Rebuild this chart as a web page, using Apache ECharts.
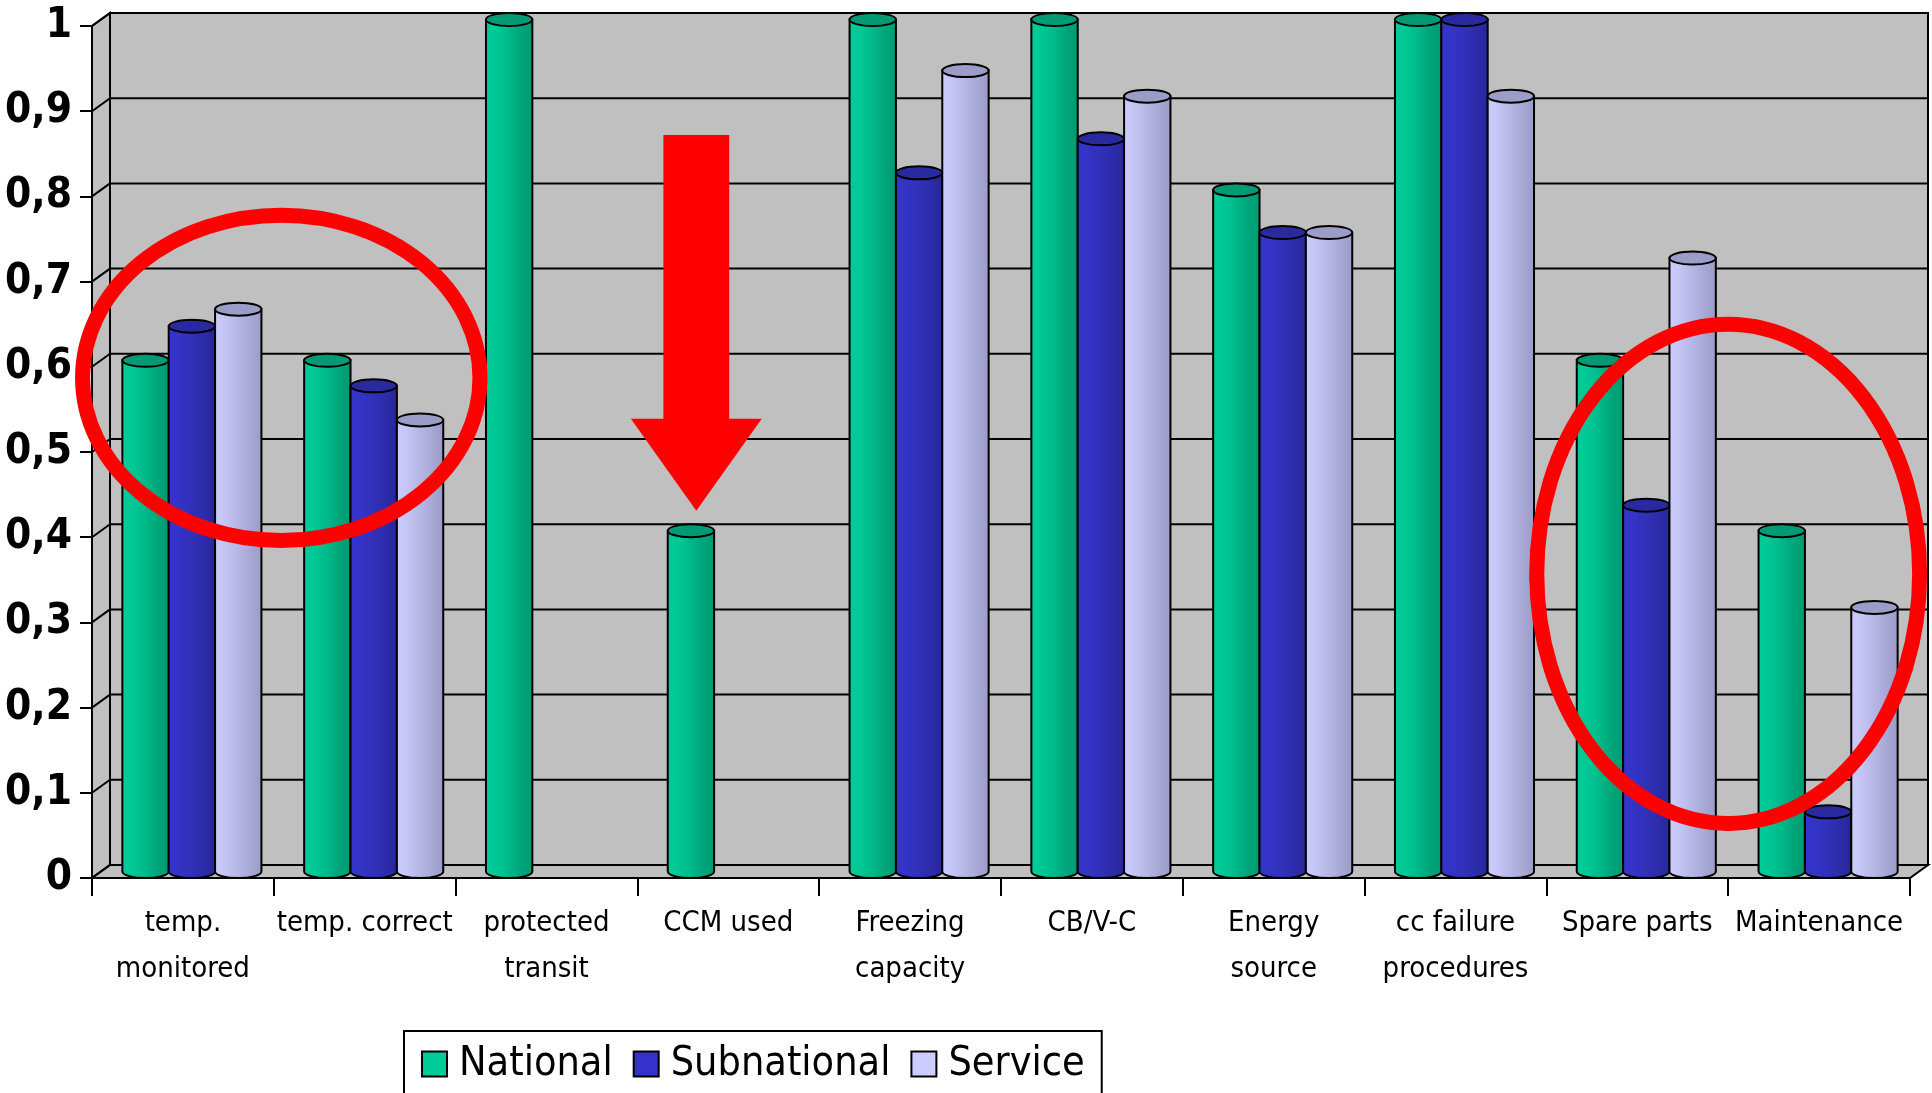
<!DOCTYPE html>
<html>
<head>
<meta charset="utf-8">
<script src="https://cdn.jsdelivr.net/npm/echarts@6/dist/echarts.min.js"></script>
<style>
html,body{margin:0;padding:0;background:#fff;}
#chart{width:1932px;height:1093px;}
</style>
</head>
<body>
<div id="chart"></div>
<script>
// ---- data ----
const categories = ['temp.\nmonitored', 'temp. correct', 'protected\ntransit', 'CCM used', 'Freezing\ncapacity', 'CB/V-C', 'Energy\nsource', 'cc failure\nprocedures', 'Spare parts', 'Maintenance'];
const seriesNames = ['National', 'Subnational', 'Service'];
const national    = [0.60, 0.60, 1.00, 0.40, 1.00, 1.00, 0.80, 1.00, 0.60, 0.40];
const subnational = [0.64, 0.57, 0,    0,    0.82, 0.86, 0.75, 1.00, 0.43, 0.07];
const service     = [0.66, 0.53, 0,    0,    0.94, 0.91, 0.75, 0.91, 0.72, 0.31];
const yTicks = [0, 0.1, 0.2, 0.3, 0.4, 0.5, 0.6, 0.7, 0.8, 0.9, 1];

// ---- style ----
const FONT = '"Liberation Sans Narrow", "DejaVu Sans Condensed", "Arial Narrow", sans-serif';
const DX = 18, DY = 13;           // 3D depth offset
const GROUP = 0.765;              // group width as fraction of band
const palette = [
  {base: '#00CC99', cap: '#009B74', stops: ['#00CC99', '#00C895', '#00B888', '#00A57A', '#009970']},
  {base: '#3333CC', cap: '#2A2AA0', stops: ['#3535CC', '#3333C6', '#3030B8', '#2C2CAA', '#26269A']},
  {base: '#CCCCFF', cap: '#9C9CC8', stops: ['#CCCCFF', '#C4C4F4', '#B6B6E4', '#A8A8D6', '#9A9AC6']}
];

function ellipsePath(cx, cy, rx, ry) {
  return 'M' + (cx - rx) + ' ' + cy + ' A' + rx + ' ' + ry + ' 0 1 0 ' + (cx + rx) + ' ' + cy +
         ' A' + rx + ' ' + ry + ' 0 1 0 ' + (cx - rx) + ' ' + cy + ' Z';
}

function makeBarSeries(name, values, idx) {
  const pal = palette[idx];
  return {
    type: 'custom',
    name: name,
    z: 5,
    itemStyle: {color: pal.base},
    encode: {x: 0, y: 1},
    data: values.map((v, i) => [i, v]),
    renderItem: function (params, api) {
      const c = api.value(0), v = api.value(1);
      if (!v) return null;
      const band = api.size([1, 0])[0];
      const base = api.coord([c, 0]);
      const top = api.coord([c, v]);
      const gw = band * GROUP, bw = gw / 3;
      const x0 = base[0] - gw / 2 + idx * bw + DX / 2;
      const x1 = x0 + bw;
      const rx = bw / 2, ry = DY / 2;
      const yB = base[1] - DY / 2, yT = top[1] - DY / 2;
      const body = 'M' + x0 + ' ' + yT + ' L' + x0 + ' ' + yB +
        ' A' + rx + ' ' + ry + ' 0 0 0 ' + x1 + ' ' + yB + ' L' + x1 + ' ' + yT + ' Z';
      const grad = new echarts.graphic.LinearGradient(0, 0, 1, 0, pal.stops.map((s, k) => ({offset: k / (pal.stops.length - 1), color: s})));
      return {
        type: 'group',
        children: [
          {type: 'path', shape: {pathData: body}, style: {fill: grad, stroke: '#000', lineWidth: 2}},
          {type: 'path', shape: {pathData: ellipsePath((x0 + x1) / 2, yT, rx, ry)}, style: {fill: pal.cap, stroke: '#000', lineWidth: 2}}
        ]
      };
    }
  };
}

// walls / floor / back gridlines of the 3D plot
const wallSeries = {
  type: 'custom',
  name: 'walls',
  z: 1,
  silent: true,
  data: [[0, 0]],
  encode: {x: 0, y: 1},
  renderItem: function (params, api) {
    const band = api.size([1, 0])[0];
    const xL = api.coord([0, 0])[0] - band / 2;
    const xR = api.coord([categories.length - 1, 0])[0] + band / 2;
    const y0 = api.coord([0, 0])[1];
    const y1 = api.coord([0, 1])[1];
    const grey = '#C0C0C0';
    const children = [];
    children.push({type: 'rect', shape: {x: xL + DX, y: y1 - DY, width: xR - xL, height: y0 - y1},
      style: {fill: grey, stroke: '#000', lineWidth: 2}});
    children.push({type: 'polygon', shape: {points: [[xL, y0], [xL + DX, y0 - DY], [xL + DX, y1 - DY], [xL, y1]]},
      style: {fill: grey, stroke: '#000', lineWidth: 2}});
    children.push({type: 'polygon', shape: {points: [[xL, y0], [xR, y0], [xR + DX, y0 - DY], [xL + DX, y0 - DY]]},
      style: {fill: grey, stroke: '#000', lineWidth: 2}});
    yTicks.forEach(function (t) {
      const y = api.coord([0, t])[1];
      children.push({type: 'line', shape: {x1: xL + DX, y1: y - DY, x2: xR + DX, y2: y - DY}, style: {stroke: '#000', lineWidth: 2}});
      children.push({type: 'line', shape: {x1: xL, y1: y, x2: xL + DX, y2: y - DY}, style: {stroke: '#000', lineWidth: 2}});
    });
    return {type: 'group', children: children};
  }
};

// red hand-drawn annotations (positions in category-band / value units)
const annotEllipses = [
  {t: 0.541, v: 0.587, rxBand: 1.093, ryVal: 0.191},
  {t: 8.500, v: 0.357, rxBand: 1.053, ryVal: 0.293}
];
const annotArrow = {t: 2.824, vTop: 0.872, vHeadBase: 0.539, vTip: 0.431, shaftHalf: 0.181, headHalf: 0.36};

const annotSeries = {
  type: 'custom',
  name: 'annotations',
  z: 20,
  silent: true,
  data: [[0, 0]],
  encode: {x: 0, y: 1},
  renderItem: function (params, api) {
    const band = api.size([1, 0])[0];
    const c0 = api.coord([0, 0])[0];
    const yOf = v => api.coord([0, v])[1];
    const children = annotEllipses.map(function (e) {
      const cx = c0 + e.t * band, cy = yOf(e.v);
      const rx = e.rxBand * band, ry = yOf(0) - yOf(e.ryVal);
      return {type: 'path', shape: {pathData: ellipsePath(cx, cy, rx, ry)}, style: {fill: 'none', stroke: '#FF0000', lineWidth: 15}};
    });
    const a = annotArrow;
    const ax = c0 + a.t * band;
    const sh = a.shaftHalf * band, hh = a.headHalf * band;
    children.push({type: 'polygon', shape: {points: [
      [ax - sh, yOf(a.vTop)], [ax + sh, yOf(a.vTop)], [ax + sh, yOf(a.vHeadBase)], [ax + hh, yOf(a.vHeadBase)],
      [ax, yOf(a.vTip)], [ax - hh, yOf(a.vHeadBase)], [ax - sh, yOf(a.vHeadBase)]
    ]}, style: {fill: '#FF0000'}});
    return {type: 'group', children: children};
  }
};

const chart = echarts.init(document.getElementById('chart'), null, {renderer: 'canvas'});
chart.setOption({
  backgroundColor: '#ffffff',
  animation: false,
  grid: {left: 92, right: 22, top: 26, bottom: 215, containLabel: false},
  xAxis: {
    type: 'category',
    data: categories,
    boundaryGap: true,
    axisLine: {show: true, lineStyle: {color: '#000', width: 2}},
    axisTick: {show: true, length: 18, lineStyle: {color: '#000', width: 2}, alignWithLabel: false},
    axisLabel: {interval: 0, margin: 22, color: '#000', fontFamily: FONT, fontSize: 29, lineHeight: 46},
    splitLine: {show: false},
    z: 10
  },
  yAxis: {
    type: 'value',
    min: 0, max: 1, interval: 0.1,
    axisLine: {show: true, lineStyle: {color: '#000', width: 2}},
    axisTick: {show: true, length: 12, lineStyle: {color: '#000', width: 2}},
    axisLabel: {margin: 20, color: '#000', fontFamily: FONT, fontSize: 42, fontWeight: 'bold',
      formatter: v => (Math.round(v * 10) / 10).toString().replace('.', ',')},
    splitLine: {show: false},
    z: 10
  },
  legend: {
    data: seriesNames.map(n => ({name: n, icon: 'rect'})),
    left: 404, top: 1031,
    orient: 'horizontal',
    itemWidth: 25, itemHeight: 25, itemGap: 20,
    padding: [8, 17, 8, 17],
    borderColor: '#000', borderWidth: 2, backgroundColor: '#fff',
    itemStyle: {borderColor: '#000', borderWidth: 2},
    textStyle: {color: '#000', fontFamily: FONT, fontSize: 41, lineHeight: 50, padding: [0, 0, 0, 7]}
  },
  series: [
    wallSeries,
    makeBarSeries(seriesNames[0], national, 0),
    makeBarSeries(seriesNames[1], subnational, 1),
    makeBarSeries(seriesNames[2], service, 2),
    annotSeries
  ]
});
</script>
</body>
</html>
